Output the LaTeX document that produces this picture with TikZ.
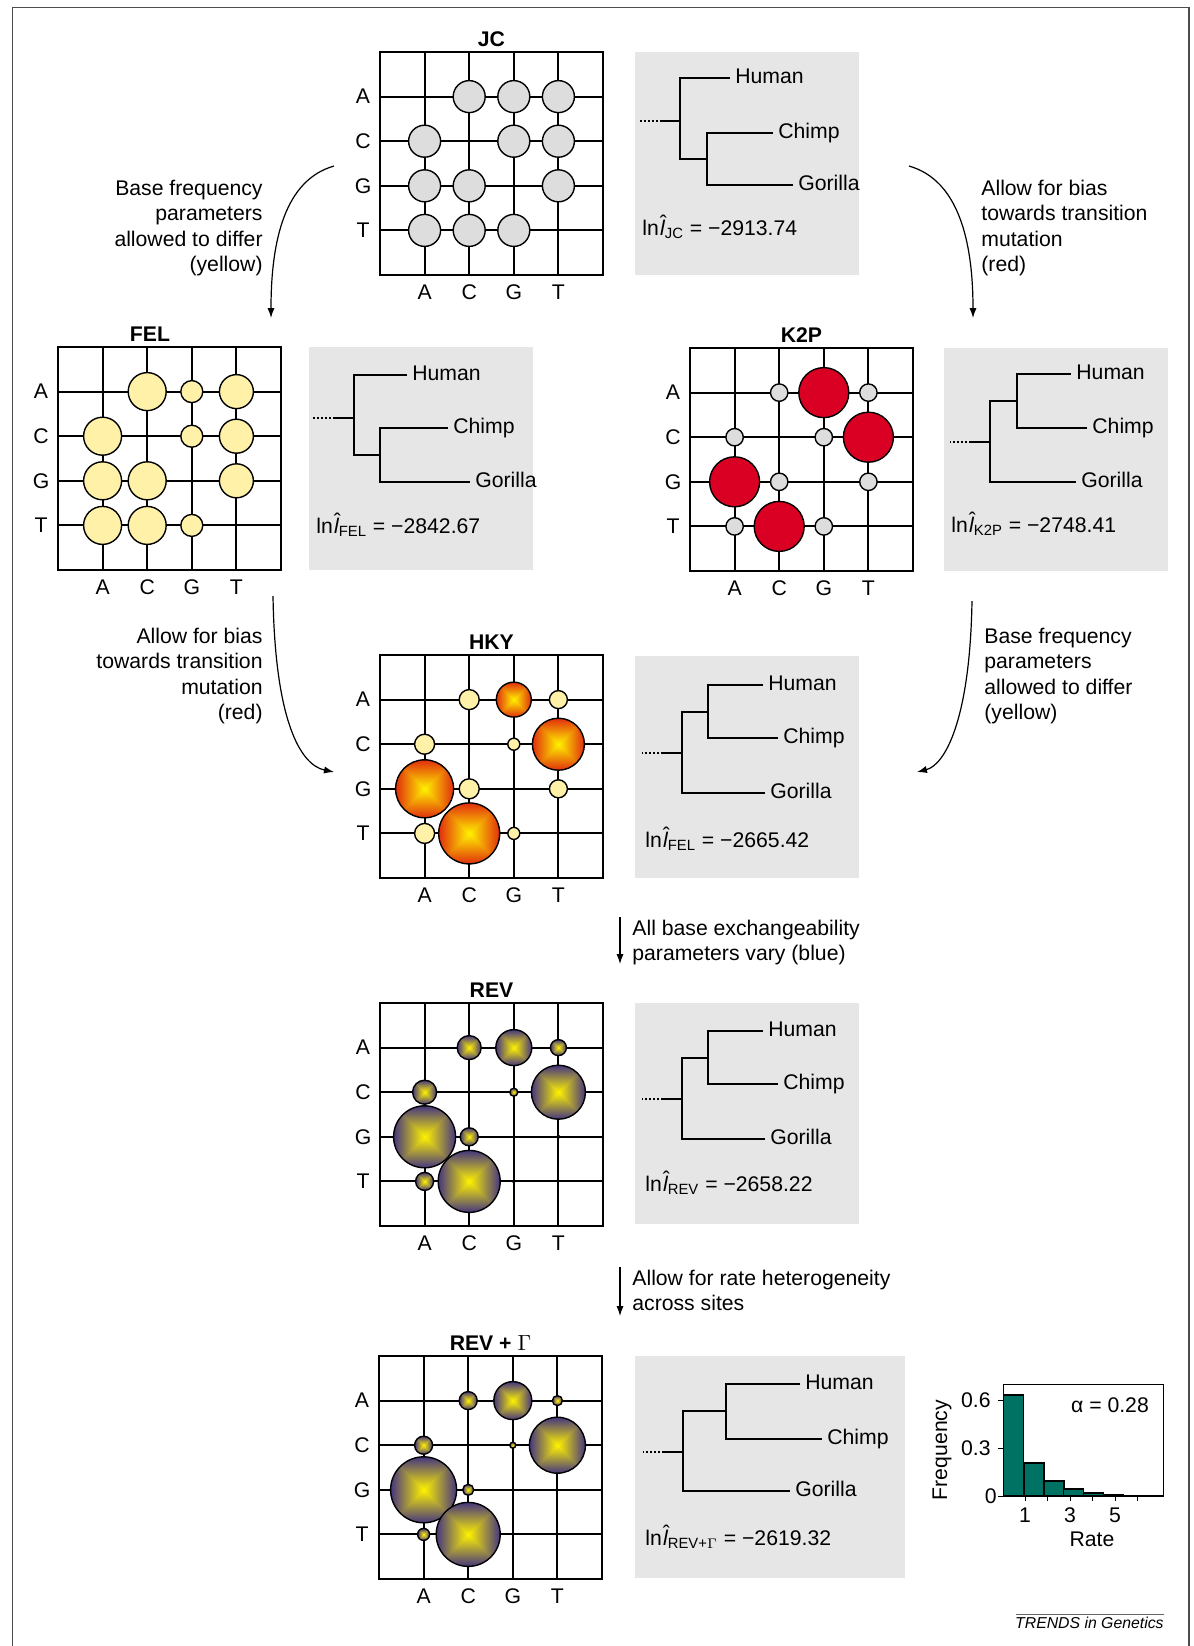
\documentclass[tikz,border=0pt]{standalone}
\usepackage{fontspec}
\setmainfont{Liberation Sans}
\usepackage{amsmath}
\usetikzlibrary{arrows.meta}

\definecolor{jcgray}{RGB}{221,221,221}
\definecolor{felyel}{RGB}{255,241,168}
\definecolor{k2pred}{RGB}{218,0,36}
\definecolor{treebg}{RGB}{230,230,230}
\definecolor{histteal}{RGB}{0,114,100}

% square gradients (yellow centre)
\pgfdeclarefunctionalshading{hkyshade}{\pgfpoint{-50bp}{-50bp}}{\pgfpoint{50bp}{50bp}}{}{
  abs exch abs 2 copy lt {exch} if pop
  25 div dup 1 gt {pop 1} if
  dup 0.12 mul 1 exch sub exch
  dup 0.77 mul 0.95 exch sub exch
  0.05 mul
}
\pgfdeclarefunctionalshading{revshade}{\pgfpoint{-50bp}{-50bp}}{\pgfpoint{50bp}{50bp}}{}{
  abs exch abs 2 copy lt {exch} if pop
  25 div dup 1 gt {pop 1} if
  dup 0.73 mul 1 exch sub exch
  dup 0.74 mul 0.95 exch sub exch
  0.5 mul
}

% likelihood label
\newcommand{\lnl}[2]{ln\kern0.06em{\itshape l}\llap{\raisebox{0.22em}{ˆ}\kern-0.1em}$_{\text{#1}}$ = −#2}

% substitution matrix: left, top, name, title, title x
\newcommand{\ratemat}[5]{%
  \node[mattitle] (#3-title) at (#5,#2-13) {#4};
  \draw[gridline] (#1,#2) rectangle ++(223,223);
  \foreach \k in {1,...,4} {
    \draw[gridline] (#1+\k*44.6,#2) -- ++(0,223);
    \draw[gridline] (#1,#2+\k*44.6) -- ++(223,0);
  }
  \foreach \b [count=\k] in {A,C,G,T} {
    \node[baselab] (#3-row\b) at (#1-17,#2+\k*44.6) {\b};
    \node[baselab] (#3-col\b) at (#1+\k*44.6,#2+240) {\b};
  }
}

\begin{document}
\begin{tikzpicture}[x=0.5pt,y=-0.5pt,
  font=\fontsize{10.6}{12.6}\selectfont,
  gridline/.style={line width=1pt},
  baselab/.style={inner sep=0pt},
  mattitle/.style={font=\fontsize{10.6}{12.6}\selectfont\bfseries, inner sep=0pt},
  jcb/.style={draw, line width=0.7pt, fill=jcgray},
  felb/.style={draw, line width=0.7pt, fill=felyel},
  k2pb/.style={draw, line width=0.7pt, fill=k2pred},
  hkyb/.style={draw, line width=0.7pt, shade, shading=hkyshade},
  revb/.style={draw, line width=0.7pt, shade, shading=revshade},
  treebox/.style={fill=treebg},
  branch/.style={line width=0.8pt},
  stem/.style={line width=0.7pt, dash pattern=on 1pt off 1pt},
  leaf/.style={anchor=mid west, inner xsep=2.5pt, inner ysep=0pt},
  lik/.style={anchor=base west, inner sep=0pt},
  note/.style={inner sep=0pt},
  conn/.style={-{Latex[length=5pt,width=3.6pt]}, line width=0.6pt},
]
\useasboundingbox (0,0) rectangle (1194,1646);
\draw[line width=0.8pt, black!70] (12.6,1646) -- (12.6,7.4) -- (1189,7.4) -- (1189,1646);

% ---------------- JC
\ratemat{380}{52}{jc}{JC}{491.5}
\foreach \ro in {1,...,4}
  \foreach \co in {1,...,4} {
    \ifnum\ro=\co\relax\else
      \path[jcb] (380+\co*44.6,52+\ro*44.6) circle (16);
    \fi
  }

\fill[treebox] (635,52) rectangle ++(224,223);
\coordinate (jc-root) at (680,121);
\coordinate (jc-in) at (707,159);
\node[leaf] (jc-h) at (730,78) {Human};
\node[leaf] (jc-c) at (773,133) {Chimp};
\node[leaf] (jc-g) at (793,185) {Gorilla};
\draw[branch] (jc-h.mid west) -| (jc-root) |- (jc-in);
\draw[branch] (jc-c.mid west) -| (jc-in) |- (jc-g.mid west);
\draw[branch] (jc-root) -- ++(-18,0) coordinate (jc-stem);
\draw[stem] (jc-stem) -- ++(-22,0);
\node[lik] (jc-lnl) at (642,235) {\lnl{JC}{2913.74}};

% ---------------- FEL
\ratemat{58}{347}{fel}{FEL}{150}
\foreach \co/\rad in {1/19,2/19,3/11,4/17}
  \foreach \ro in {1,...,4} {
    \ifnum\ro=\co\relax\else
      \path[felb] (58+\co*44.6,347+\ro*44.6) circle (\rad);
    \fi
  }

\fill[treebox] (309,347) rectangle ++(224,223);
\coordinate (fel-root) at (354,418);
\coordinate (fel-in) at (380,455);
\node[leaf] (fel-h) at (407,375) {Human};
\node[leaf] (fel-c) at (448,428) {Chimp};
\node[leaf] (fel-g) at (470,482) {Gorilla};
\draw[branch] (fel-h.mid west) -| (fel-root) |- (fel-in);
\draw[branch] (fel-c.mid west) -| (fel-in) |- (fel-g.mid west);
\draw[branch] (fel-root) -- ++(-19,0) coordinate (fel-stem);
\draw[stem] (fel-stem) -- ++(-22,0);
\node[lik] (fel-lnl) at (316,533) {\lnl{FEL}{2842.67}};

% ---------------- K2P
\ratemat{690}{348}{k2p}{K2P}{801.5}
\foreach \ro/\co/\rad/\sty in {1/2/8.7/jcb, 1/3/25/k2pb, 1/4/8.7/jcb,
    2/1/8.7/jcb, 2/3/8.7/jcb, 2/4/25/k2pb, 3/1/25/k2pb, 3/2/8.7/jcb,
    3/4/8.7/jcb, 4/1/8.7/jcb, 4/2/25/k2pb, 4/3/8.7/jcb}
  \path[\sty] (690+\co*44.6,348+\ro*44.6) circle (\rad);

\fill[treebox] (944,348) rectangle ++(224,223);
\coordinate (k2p-root) at (990,442);
\coordinate (k2p-in) at (1017,401);
\node[leaf] (k2p-h) at (1071,374) {Human};
\node[leaf] (k2p-c) at (1087,428) {Chimp};
\node[leaf] (k2p-g) at (1076,482) {Gorilla};
\draw[branch] (k2p-h.mid west) -| (k2p-in) |- (k2p-c.mid west);
\draw[branch] (k2p-in) -| (k2p-root) |- (k2p-g.mid west);
\draw[branch] (k2p-root) -- ++(-19,0) coordinate (k2p-stem);
\draw[stem] (k2p-stem) -- ++(-21,0);
\node[lik] (k2p-lnl) at (951,532) {\lnl{K2P}{2748.41}};

% ---------------- HKY
\ratemat{380}{655}{hky}{HKY}{491.5}
\foreach \ro/\co/\rad/\sty in {1/2/10/felb, 1/3/17.5/hkyb, 1/4/9/felb,
    2/1/10/felb, 2/3/6/felb, 2/4/26/hkyb, 3/1/29/hkyb, 3/2/10/felb,
    3/4/9/felb, 4/1/10/felb, 4/2/30.5/hkyb, 4/3/6/felb}
  \path[\sty] (380+\co*44.6,655+\ro*44.6) circle (\rad);

\fill[treebox] (635,656) rectangle ++(224,222);
\coordinate (hky-root) at (682,753);
\coordinate (hky-in) at (708,712);
\node[leaf] (hky-h) at (763,685) {Human};
\node[leaf] (hky-c) at (778,738) {Chimp};
\node[leaf] (hky-g) at (765,793) {Gorilla};
\draw[branch] (hky-h.mid west) -| (hky-in) |- (hky-c.mid west);
\draw[branch] (hky-in) -| (hky-root) |- (hky-g.mid west);
\draw[branch] (hky-root) -- ++(-19,0) coordinate (hky-stem);
\draw[stem] (hky-stem) -- ++(-21,0);
\node[lik] (hky-lnl) at (645,847) {\lnl{FEL}{2665.42}};

% ---------------- REV
\ratemat{380}{1003}{rev}{REV}{491.5}
\foreach \ro/\co/\rad in {1/2/12, 1/3/18, 1/4/8, 2/1/12, 2/3/4, 2/4/27,
    3/1/31, 3/2/9, 3/4/1.5, 4/1/9, 4/2/31, 4/3/1.2}
  \path[revb] (380+\co*44.6,1003+\ro*44.6) circle (\rad);

\fill[treebox] (635,1003) rectangle ++(224,221);
\coordinate (rev-root) at (682,1099);
\coordinate (rev-in) at (708,1058);
\node[leaf] (rev-h) at (763,1031) {Human};
\node[leaf] (rev-c) at (778,1084) {Chimp};
\node[leaf] (rev-g) at (765,1139) {Gorilla};
\draw[branch] (rev-h.mid west) -| (rev-in) |- (rev-c.mid west);
\draw[branch] (rev-in) -| (rev-root) |- (rev-g.mid west);
\draw[branch] (rev-root) -- ++(-19,0) coordinate (rev-stem);
\draw[stem] (rev-stem) -- ++(-21,0);
\node[lik] (rev-lnl) at (645,1191) {\lnl{REV}{2658.22}};

% ---------------- REV + Gamma
\ratemat{379}{1356}{revg}{REV + $\Gamma$}{490.5}
\foreach \ro/\co/\rad in {1/2/9, 1/3/19, 1/4/5, 2/1/9, 2/3/3, 2/4/28,
    3/1/33, 3/2/5.5, 4/1/6, 4/2/32}
  \path[revb] (379+\co*44.6,1356+\ro*44.6) circle (\rad);

\fill[treebox] (635,1356) rectangle ++(270,222);
\coordinate (revg-root) at (683,1452);
\coordinate (revg-in) at (726,1411);
\node[leaf] (revg-h) at (800,1384) {Human};
\node[leaf] (revg-c) at (822,1439) {Chimp};
\node[leaf] (revg-g) at (790,1491) {Gorilla};
\draw[branch] (revg-h.mid west) -| (revg-in) |- (revg-c.mid west);
\draw[branch] (revg-in) -| (revg-root) |- (revg-g.mid west);
\draw[branch] (revg-root) -- ++(-19,0) coordinate (revg-stem);
\draw[stem] (revg-stem) -- ++(-21,0);
\node[lik] (revg-lnl) at (645,1545) {\lnl{REV+$\Gamma$}{2619.32}};

% ---------------- rate histogram
\draw[line width=0.5pt] (1003,1384) rectangle (1163,1496);
\foreach \xa/\ht in {1003.3/1395, 1024/1463, 1044/1481, 1063.3/1489,
    1083.3/1493, 1103.3/1495}
  \draw[fill=histteal, line width=0.6pt] (\xa,1496) rectangle (\xa+20,\ht);
\draw[line width=1.1pt] (1003,1496) -- (1163,1496);
\foreach \yy in {1400,1448,1496}
  \draw[line width=0.5pt] (1003,\yy) -- ++(-5,0);
\foreach \xx in {1025,1047.5,1070,1092.5,1115,1137.5}
  \draw[line width=0.5pt] (\xx,1496) -- ++(0,5);
\node[anchor=east, inner sep=0pt] (hy6) at (991,1400) {0.6};
\node[anchor=east, inner sep=0pt] (hy3) at (991,1448) {0.3};
\node[anchor=east, inner sep=0pt] (hy0) at (997,1496) {0};
\node[inner sep=0pt] (hx1) at (1025,1515) {1};
\node[inner sep=0pt] (hx3) at (1070,1515) {3};
\node[inner sep=0pt] (hx5) at (1115,1515) {5};
\node[rotate=90, inner sep=0pt] (hfreq) at (942,1450) {Frequency};
\node[inner sep=0pt] (hrate) at (1092,1539) {Rate};
\node[inner sep=0pt] (halpha) at (1110,1405) {α = 0.28};

% ---------------- arrows and notes
\node[note, anchor=north east, align=right] (n1) at (263,180)
  {Base frequency\\parameters\\allowed to differ\\(yellow)};
\node[note, anchor=north west, align=left] (n2) at (981,180)
  {Allow for bias\\towards transition\\mutation\\(red)};
\node[note, anchor=north east, align=right] (n3) at (263,628)
  {Allow for bias\\towards transition\\mutation\\(red)};
\node[note, anchor=north west, align=left] (n4) at (984,628)
  {Base frequency\\parameters\\allowed to differ\\(yellow)};
\node[note, anchor=north west, align=left] (n5) at (632,920)
  {All base exchangeability\\parameters vary (blue)};
\node[note, anchor=north west, align=left] (n6) at (632,1270)
  {Allow for rate heterogeneity\\across sites};

\coordinate (a1s) at (334,166); \coordinate (a1e) at (271,318);
\coordinate (a2s) at (909,166); \coordinate (a2e) at (973,318);
\coordinate (a3s) at (273,596); \coordinate (a3e) at (334,772);
\coordinate (a4s) at (972,601); \coordinate (a4e) at (917,772);
\coordinate (a5s) at (620,917); \coordinate (a5e) at (620,964);
\coordinate (a6s) at (620,1267); \coordinate (a6e) at (620,1316);
\draw[conn] (a1s) .. controls (285,180) and (271,240) .. (a1e);
\draw[conn] (a2s) .. controls (958,180) and (973,240) .. (a2e);
\draw[conn] (a3s) .. controls (275,720) and (300,765) .. (a3e);
\draw[conn] (a4s) .. controls (970,720) and (945,765) .. (a4e);
\draw[conn] (a5s) -- (a5e);
\draw[conn] (a6s) -- (a6e);

% ---------------- credit line
\draw[black!60, line width=0.5pt] (1016,1614) -- (1164,1614);
\node[anchor=base east, inner sep=0pt, font=\fontsize{7.9}{9}\selectfont\itshape]
  (trends) at (1164,1628) {TRENDS in Genetics};
\end{tikzpicture}
\end{document}
